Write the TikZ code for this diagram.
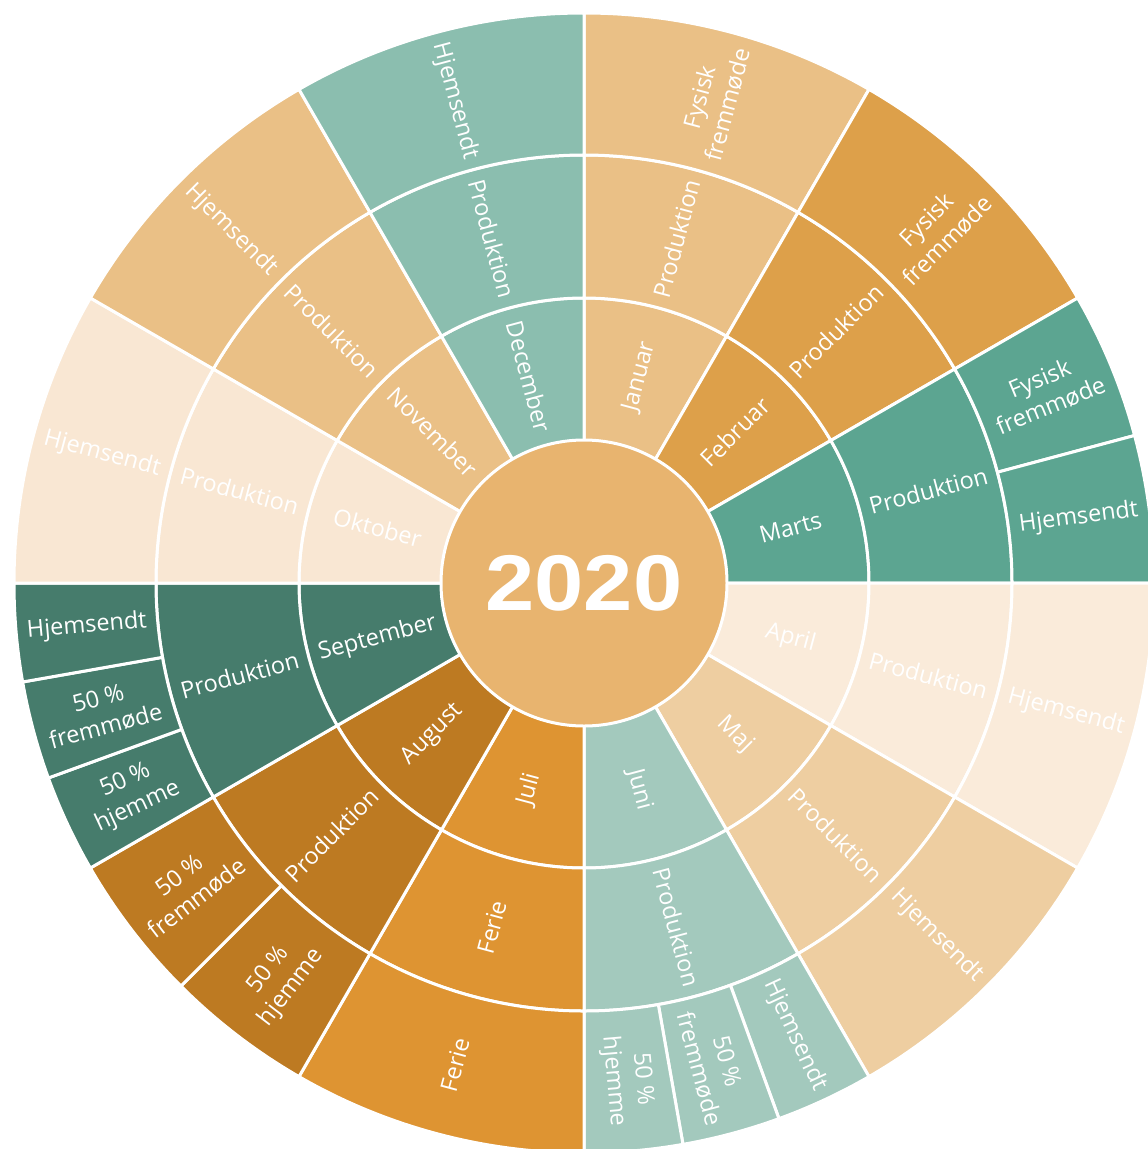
\documentclass[tikz,border=0pt]{standalone}
\usepackage{fontspec}
\setmainfont{Open Sans}
\newfontfamily\yearfont{Liberation Sans}
\definecolor{cCenter}{HTML}{E8B46F}
\definecolor{cJan}{HTML}{EAC086}
\definecolor{cFeb}{HTML}{DDA04A}
\definecolor{cMar}{HTML}{5CA591}
\definecolor{cApr}{HTML}{FAEBDA}
\definecolor{cMaj}{HTML}{EECEA1}
\definecolor{cJun}{HTML}{A3C9BD}
\definecolor{cJul}{HTML}{DE9432}
\definecolor{cAug}{HTML}{BD7A22}
\definecolor{cSep}{HTML}{467C6C}
\definecolor{cOkt}{HTML}{F9E7D3}
\definecolor{cNov}{HTML}{EAC086}
\definecolor{cDec}{HTML}{8BBEAF}
\tikzset{
  segline/.style={draw=white, line width=3pt, line join=round},
  lab/.style={text=white, font=\fontsize{23.5}{29}\selectfont, align=center, inner sep=0pt},
}
\newcommand\mysegment[5]{%
  \path[segline, fill=#5] (#3:#1pt) arc[start angle=#3, end angle=#4, radius=#1pt]
    -- (#4:#2pt) arc[start angle=#4, end angle=#3, radius=#2pt] -- cycle;}
\begin{document}
\begin{tikzpicture}[x=1pt,y=1pt]
\useasboundingbox (0,0) rectangle (1148,-1149);
\clip (0,0) rectangle (1148,-1149);
\begin{scope}[shift={(584,-583)}]
% ring 1: months
\foreach \a/\b/\c in {90/60/cJan,60/30/cFeb,30/0/cMar,0/-30/cApr,-30/-60/cMaj,-60/-90/cJun,-90/-120/cJul,-120/-150/cAug,-150/-180/cSep,180/150/cOkt,150/120/cNov,120/90/cDec}
  {\mysegment{142.5}{285}{\a}{\b}{\c}}
% ring 2
\foreach \a/\b/\c in {90/60/cJan,60/30/cFeb,30/0/cMar,0/-30/cApr,-30/-60/cMaj,-60/-90/cJun,-90/-120/cJul,-120/-150/cAug,-150/-180/cSep,180/150/cOkt,150/120/cNov,120/90/cDec}
  {\mysegment{285}{428}{\a}{\b}{\c}}
% ring 3
\foreach \a/\b/\c in {90/60/cJan,60/30/cFeb,30/15/cMar,15/0/cMar,0/-30/cApr,-30/-60/cMaj,-60/-70/cJun,-70/-80/cJun,-80/-90/cJun,-90/-120/cJul,-120/-135/cAug,-135/-150/cAug,-150/-160/cSep,-160/-170/cSep,-170/-180/cSep,180/150/cOkt,150/120/cNov,120/90/cDec}
  {\mysegment{428}{570}{\a}{\b}{\c}}
% centre
\fill[cCenter, draw=white, line width=3pt] (0,0) circle[radius=143pt];
\node[text=white, font=\yearfont\bfseries\fontsize{79}{79}\selectfont, xscale=1.12, inner sep=0pt] (year) at (0,0) {2020};
% ring 1 labels
\foreach \m/\r/\t/\n in {75/75/Januar/m1,45/45/Februar/m2,15/15/Marts/m3,-15/-15/April/m4,-45/-45/Maj/m5,-75/-75/Juni/m6,-105/75/Juli/m7,-135/45/August/m8,-165/15/September/m9,165/-15/Oktober/m10,135/-45/November/m11,105/-75/December/m12}
  {\node[lab, rotate=\r] (\n) at (\m:213.75pt) {\t};}
% ring 2 labels
\foreach \m/\r/\t/\n in {75/75/Produktion/p1,45/45/Produktion/p2,15/15/Produktion/p3,-15/-15/Produktion/p4,-45/-45/Produktion/p5,-75/-75/Produktion/p6,-105/75/Ferie/p7,-135/45/Produktion/p8,-165/15/Produktion/p9,165/-15/Produktion/p10,135/-45/Produktion/p11,105/-75/Produktion/p12}
  {\node[lab, rotate=\r] (\n) at (\m:356.5pt) {\t};}
% ring 3 labels
\foreach \m/\r/\t/\n in {75/75/{Fysisk\\fremmøde}/o1,45/45/{Fysisk\\fremmøde}/o2,22.5/22.5/{Fysisk\\fremmøde}/o3a,7.5/7.5/Hjemsendt/o3b,-15/-15/Hjemsendt/o4,-45/-45/Hjemsendt/o5,-65/-65/Hjemsendt/o6a,-75/-75/{50 \%\\fremmøde}/o6b,-85/-85/{50 \%\\hjemme}/o6c,-105/75/Ferie/o7,-127.5/52.5/{50 \%\\hjemme}/o8a,-142.5/37.5/{50 \%\\fremmøde}/o8b,-155/25/{50 \%\\hjemme}/o9a,-165/15/{50 \%\\fremmøde}/o9b,-175/5/Hjemsendt/o9c,165/-15/Hjemsendt/o10,135/-45/Hjemsendt/o11,105/-75/Hjemsendt/o12}
  {\node[lab, rotate=\r] (\n) at (\m:499pt) {\t};}
\end{scope}
\end{tikzpicture}
\end{document}
